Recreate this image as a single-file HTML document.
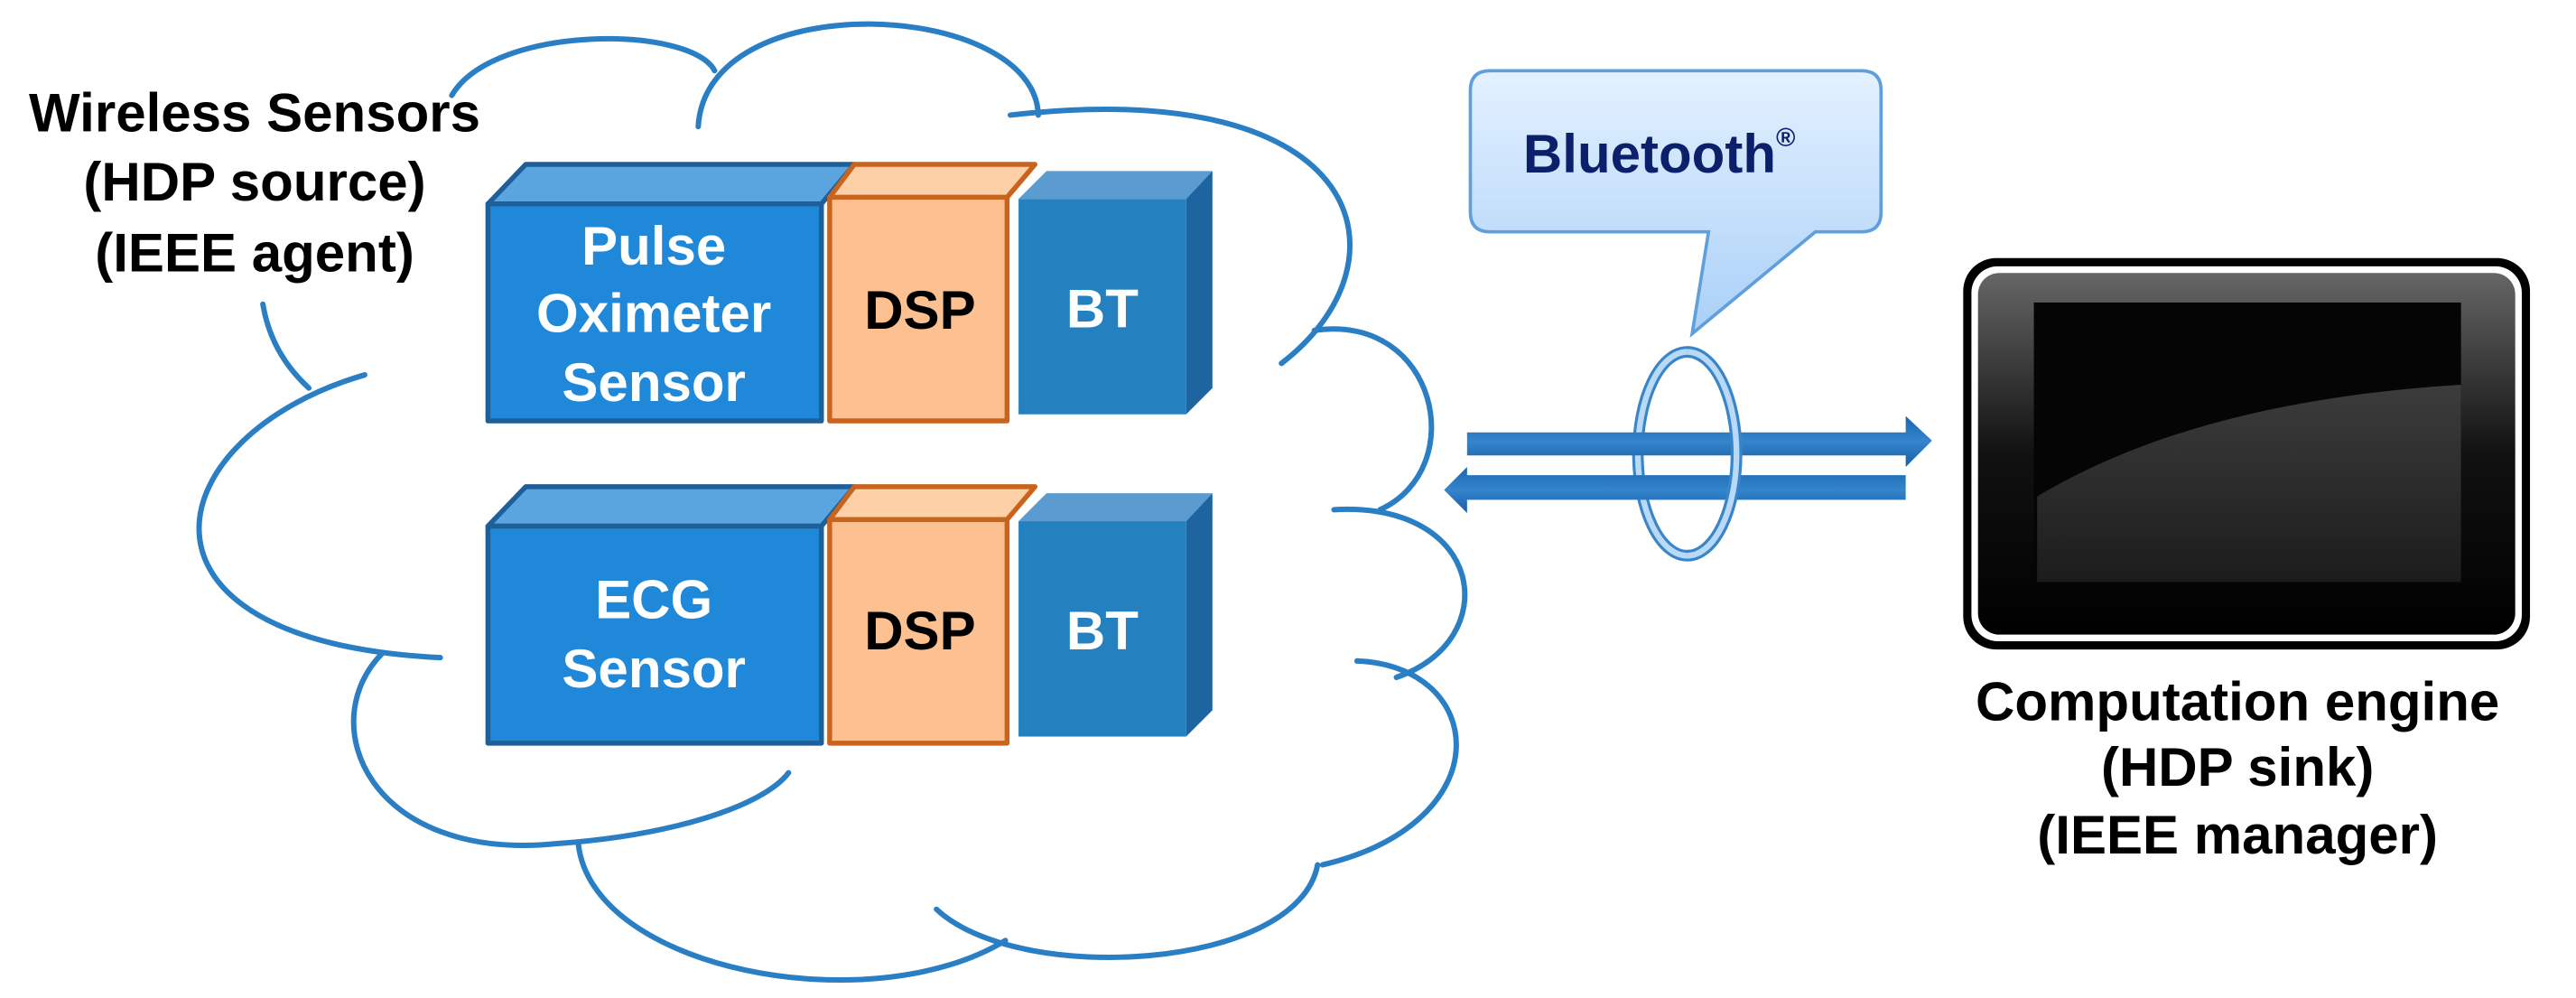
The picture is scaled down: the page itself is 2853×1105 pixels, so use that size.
<!DOCTYPE html>
<html><head><meta charset="utf-8"><style>
html,body{margin:0;padding:0;background:#fff;}
svg{display:block;}
text{font-family:"Liberation Sans",Arial,sans-serif;font-weight:bold;}
</style></head><body>
<svg width="2853" height="1105" viewBox="0 0 1568 607" preserveAspectRatio="none" xmlns="http://www.w3.org/2000/svg">
<defs>
<linearGradient id="bub" x1="0" y1="0" x2="0" y2="1"><stop offset="0" stop-color="#e4f1ff"/><stop offset="1" stop-color="#a9d0f8"/></linearGradient>
<linearGradient id="arr" x1="0" y1="0" x2="0" y2="1"><stop offset="0" stop-color="#1766b0"/><stop offset="0.5" stop-color="#3585cc"/><stop offset="1" stop-color="#155fa6"/></linearGradient>
<linearGradient id="bez" x1="0" y1="0" x2="0" y2="1"><stop offset="0" stop-color="#666"/><stop offset="0.5" stop-color="#111"/><stop offset="1" stop-color="#000"/></linearGradient>
<linearGradient id="hl" x1="0" y1="0" x2="0" y2="1"><stop offset="0" stop-color="#3c3c3c"/><stop offset="1" stop-color="#1c1c1c"/></linearGradient>
</defs>

<!-- cloud -->
<g fill="none" stroke="#2a7fc4" stroke-width="3.3" stroke-linecap="round">
<path d="M222 228 C95 265, 65 390, 268 400"/>
<path d="M160 185 Q165 215 188 236"/>
<path d="M233 397 C190 440, 225 525, 340 513 C410 508, 465 490, 480 470"/>
<path d="M352 513 C360 590, 530 622, 612 572"/>
<path d="M570 553 C620 600, 790 590, 802 526"/>
<path d="M805 526 C915 500, 905 405, 826 402"/>
<path d="M850 412 C915 390, 905 305, 812 310"/>
<path d="M840 310 C895 285, 875 190, 800 201"/>
<path d="M780 221 C860 160, 835 45, 615 70"/>
<path d="M632 70 C630 0, 430 -10, 425 77"/>
<path d="M435 43 C420 15, 300 15, 275 58"/>
</g>

<!-- Pulse block -->
<g stroke-linejoin="round">
<polygon points="297,124 320,100 520,100 500,124" fill="#5aa5e0" stroke="#1f5f99" stroke-width="3"/>
<rect x="297" y="124" width="203" height="132" fill="#2088d8" stroke="#1f5f99" stroke-width="3"/>
<polygon points="505,120 520,100 630,100 613,120" fill="#fdd0a8" stroke="#c8641e" stroke-width="3"/>
<rect x="505" y="120" width="108" height="136" fill="#fdc090" stroke="#c8641e" stroke-width="3"/>
<polygon points="620,121 637,104 738,104 722,121" fill="#5b9bd0"/>
<polygon points="722,121 738,104 738,236 722,252" fill="#1e64a0"/>
<rect x="620" y="121" width="102" height="131" fill="#2580c0"/>
</g>
<!-- ECG block -->
<g stroke-linejoin="round" transform="translate(0,196)">
<polygon points="297,124 320,100 520,100 500,124" fill="#5aa5e0" stroke="#1f5f99" stroke-width="3"/>
<rect x="297" y="124" width="203" height="132" fill="#2088d8" stroke="#1f5f99" stroke-width="3"/>
<polygon points="505,120 520,100 630,100 613,120" fill="#fdd0a8" stroke="#c8641e" stroke-width="3"/>
<rect x="505" y="120" width="108" height="136" fill="#fdc090" stroke="#c8641e" stroke-width="3"/>
<polygon points="620,121 637,104 738,104 722,121" fill="#5b9bd0"/>
<polygon points="722,121 738,104 738,236 722,252" fill="#1e64a0"/>
<rect x="620" y="121" width="102" height="131" fill="#2580c0"/>
</g>

<g font-size="33" text-anchor="middle">
<text x="398" y="161" fill="#fff">Pulse</text>
<text x="398" y="202" fill="#fff">Oximeter</text>
<text x="398" y="244" fill="#fff">Sensor</text>
<text x="560" y="200" fill="#000">DSP</text>
<text x="671" y="199" fill="#fff">BT</text>
<text x="398" y="376" fill="#fff">ECG</text>
<text x="398" y="418" fill="#fff">Sensor</text>
<text x="560" y="395" fill="#000">DSP</text>
<text x="671" y="395" fill="#fff">BT</text>
</g>

<g font-size="33" text-anchor="middle" fill="#000">
<text x="155" y="80">Wireless Sensors</text>
<text x="155" y="122">(HDP source)</text>
<text x="155" y="165">(IEEE agent)</text>
<text x="1362" y="438">Computation engine</text>
<text x="1362" y="478">(HDP sink)</text>
<text x="1362" y="519">(IEEE manager)</text>
</g>

<!-- callout -->
<path d="M907 43 H1133 Q1145 43 1145 55 V129 Q1145 141 1133 141 H1105 L1030 203 L1040 141 H907 Q895 141 895 129 V55 Q895 43 907 43 Z" fill="url(#bub)" stroke="#5fa0dc" stroke-width="2"/>
<text x="1010" y="105" font-size="33" text-anchor="middle" fill="#0c1f6a">Bluetooth<tspan font-size="16" dy="-16">®</tspan></text>

<!-- ring back -->
<ellipse cx="1027" cy="276" rx="30" ry="62" fill="none" stroke="#3a84c8" stroke-width="7"/>
<ellipse cx="1027" cy="276" rx="30" ry="62" fill="none" stroke="#b8daf8" stroke-width="3.5"/>
<!-- arrows -->
<polygon points="893,263 1160,263 1160,253 1176,268 1160,284 1160,277 893,277" fill="url(#arr)"/>
<polygon points="1160,289 893,289 893,284 879,298 893,312 893,304 1160,304" fill="url(#arr)"/>
<!-- ring front (right part) -->
<path d="M1027 214 A30 62 0 0 1 1027 338" fill="none" stroke="#3a84c8" stroke-width="7"/>
<path d="M1027 214 A30 62 0 0 1 1027 338" fill="none" stroke="#b8daf8" stroke-width="3.5"/>

<!-- tablet -->
<rect x="1195" y="157" width="345" height="238" rx="20" fill="#000"/>
<rect x="1200" y="162" width="335" height="228" rx="16" fill="#fff"/>
<rect x="1204" y="166" width="327" height="220" rx="13" fill="url(#bez)"/>
<rect x="1238" y="184" width="260" height="170" fill="#050505"/>
<path d="M1240 302 C1310 260, 1400 240, 1498 234 V354 H1240 Z" fill="url(#hl)"/>
</svg>
</body></html>
